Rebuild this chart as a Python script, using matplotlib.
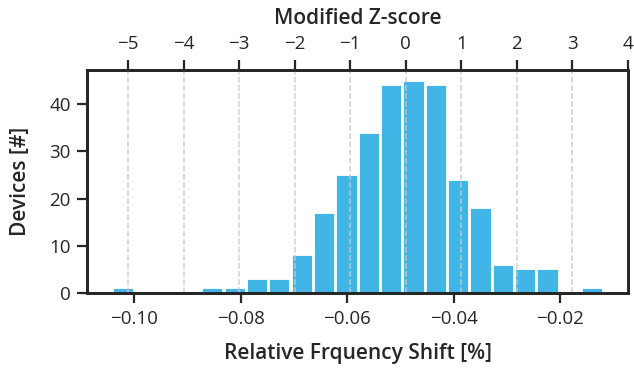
import matplotlib
matplotlib.use("Agg")
import matplotlib.pyplot as plt
import numpy as np

plt.rcParams['font.family'] = ['Open Sans', 'DejaVu Sans']

# histogram data (22 equal bins between bin_lo and bin_hi)
bin_lo = -0.10425
bin_hi = -0.0119
counts = [1, 0, 0, 0, 1, 1, 3, 3, 8, 17, 25, 34, 44, 45, 44, 24, 18, 6, 5, 5, 0, 1]
# modified z-score reference
median = -0.04899
mad = 0.007046
z_ticks = [-5, -4, -3, -2, -1, 0, 1, 2, 3, 4]
x_ticks = [-0.10, -0.08, -0.06, -0.04, -0.02]
y_ticks = [0, 10, 20, 30, 40]

dark = '#262626'
fs = 13.5

fig = plt.figure(figsize=(6.34, 3.73), dpi=100)
ax = fig.add_axes([0.1377, 0.2145, 0.8528, 0.5978])

edges = np.linspace(bin_lo, bin_hi, len(counts) + 1)
centers = (edges[:-1] + edges[1:]) / 2
ax.hist(centers, bins=edges, weights=counts, rwidth=0.9, color='#41b6e6',
        edgecolor='white', linewidth=0.6)

ax.set_xticks(x_ticks)
ax.set_yticks(y_ticks)
ax.set_xlabel('Relative Frquency Shift [%]', fontsize=15, fontweight='semibold', labelpad=11)
ax.set_ylabel('Devices [#]', fontsize=15, fontweight='semibold', labelpad=13)
ax.set_xlim(bin_lo - 0.05 * (bin_hi - bin_lo), bin_hi + 0.05 * (bin_hi - bin_lo))
ax.set_ylim(0, max(counts) * 1.05)

def to_z(x):
    return 0.6745 * (x - median) / mad

ax2 = ax.twiny()
x0, x1 = ax.get_xlim()
ax2.set_xlim(to_z(x0), to_z(x1))
ax2.set_xticks(z_ticks)
ax2.set_xlabel('Modified Z-score', fontsize=15, fontweight='semibold', labelpad=8)
ax2.grid(axis='x', ls='--', color='#c8c8c8', lw=1.1, alpha=0.85)

for a in (ax, ax2):
    for s in a.spines.values():
        s.set_color(dark)
        s.set_linewidth(2)
    a.tick_params(length=7, width=1.6, color=dark, labelsize=fs, labelcolor=dark, pad=5)
ax.xaxis.label.set_color(dark)
ax.yaxis.label.set_color(dark)
ax2.xaxis.label.set_color(dark)

fig.savefig('out.png', dpi=100)
